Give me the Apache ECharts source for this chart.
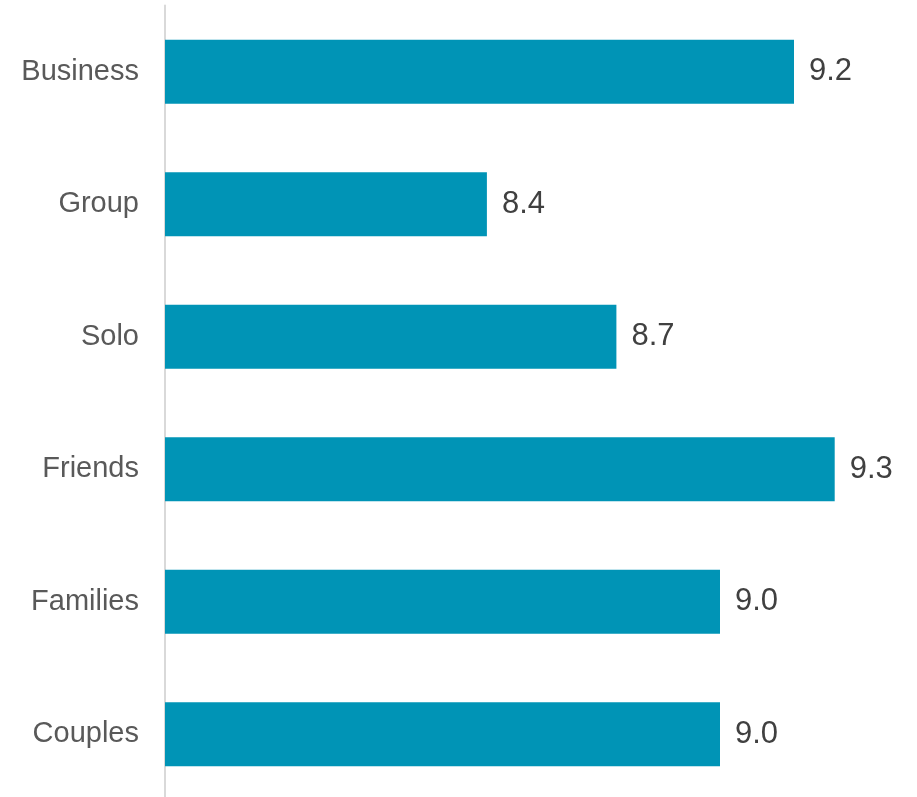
<!DOCTYPE html>
<html>
<head>
<meta charset="utf-8">
<script src="https://cdn.jsdelivr.net/npm/echarts@6/dist/echarts.min.js"></script>
<style>html,body{margin:0;padding:0;background:#fff}#c{width:917px;height:797px}</style>
</head>
<body>
<div id="c"></div>
<script>
const categories = ["Couples", "Families", "Friends", "Solo", "Group", "Business"];
const scores = [9.00, 9.00, 9.31, 8.72, 8.37, 9.20];

const chart = echarts.init(document.getElementById('c'), null, {renderer: 'canvas'});
chart.setOption({
  animation: false,
  grid: {left: 165, right: 12, top: 5.5, height: 795, containLabel: false, outerBoundsMode: 'none'},
  xAxis: {
    type: 'value', min: 7.5, max: 9.5,
    show: false
  },
  yAxis: {
    type: 'category', data: categories,
    axisLine: {show: true, lineStyle: {color: '#d9d9d9', width: 2}},
    axisTick: {show: false},
    axisLabel: {color: '#595959', fontSize: 29, fontFamily: 'Liberation Sans, Arial, sans-serif', margin: 26}
  },
  series: [{
    type: 'bar', data: scores, barWidth: 64,
    itemStyle: {color: '#0094b6'},
    label: {
      show: true, position: 'right', distance: 15,
      color: '#404040', fontSize: 31, fontFamily: 'Liberation Sans, Arial, sans-serif',
      formatter: p => p.value.toFixed(1)
    }
  }]
});
</script>
</body>
</html>
